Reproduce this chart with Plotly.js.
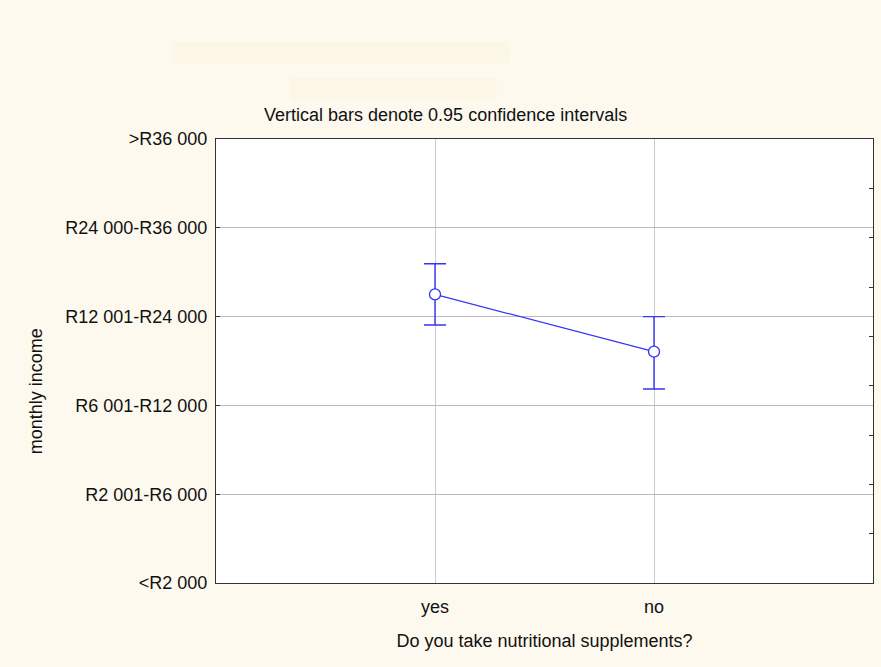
<!DOCTYPE html>
<html>
<head>
<meta charset="utf-8">
<script src="https://cdn.plot.ly/plotly-3.0.1.min.js"></script>
<style>html,body{margin:0;padding:0;background:#FDF9EE;}#chart{width:881px;height:667px;}</style>
</head>
<body>
<div id="chart"></div>
<script>
const categories = ["yes", "no"];
const means = [4.25, 3.605];
const ciUpper = [0.345, 0.395];
const ciLower = [0.345, 0.42];
const incomeLevels = [1, 2, 3, 4, 5, 6];
const incomeLabels = ["&lt;R2 000", "R2 001-R6 000", "R6 001-R12 000", "R12 001-R24 000", "R24 000-R36 000", "&gt;R36 000"];

const xPos = categories.map((c, i) => i + 1);

const trace = {
  x: xPos,
  y: means,
  type: "scatter",
  mode: "lines+markers",
  line: {color: "#3535F5", width: 1.2},
  marker: {symbol: "circle", size: 11, color: "#FFFFFF", line: {width: 1.3, color: "#3535F5"}},
  error_y: {type: "data", symmetric: false, array: ciUpper, arrayminus: ciLower, color: "#3535F5", thickness: 1.4, width: 11},
  showlegend: false,
  hoverinfo: "skip"
};
const dummy = {x: [1], y: [0], yaxis: "y2", type: "scatter", mode: "markers", marker: {opacity: 0}, showlegend: false, hoverinfo: "skip"};

const font = {family: "Liberation Sans, Arial, sans-serif", size: 18, color: "#111"};

const layout = {
  width: 881, height: 667,
  paper_bgcolor: "#FDF9EE",
  plot_bgcolor: "#FFFFFF",
  margin: {l: 216, r: 8, t: 139, b: 84},
  font: font,
  xaxis: {
    range: [0, 3],
    tickvals: xPos,
    ticktext: categories,
    showgrid: true, gridcolor: "#CCCCCC", gridwidth: 1,
    zeroline: false,
    showline: true, linecolor: "#333", linewidth: 1, mirror: true,
    ticks: "",
    ticklabelstandoff: 7,
    tickfont: font,
    title: {text: "Do you take nutritional supplements?", font: font, standoff: 18}
  },
  yaxis: {
    range: [1, 6],
    tickvals: incomeLevels,
    ticktext: incomeLabels,
    showgrid: true, gridcolor: "#BBBBBB", gridwidth: 1,
    zeroline: false,
    showline: true, linecolor: "#333", linewidth: 1, mirror: true,
    ticks: "inside", ticklen: 4, tickcolor: "#333",
    ticklabelstandoff: 4,
    tickfont: font
  },
  yaxis2: {
    overlaying: "y", side: "right", range: [0, 9], dtick: 1,
    showticklabels: false, showgrid: false, zeroline: false,
    ticks: "inside", ticklen: 4, tickcolor: "#333", showline: false
  },
  shapes: [
    {type: "rect", xref: "paper", yref: "paper", x0: -0.066, x1: 0.446, y0: 1.171, y1: 1.219, fillcolor: "#FCF6E6", line: {width: 0}, layer: "below"},
    {type: "rect", xref: "paper", yref: "paper", x0: 0.113, x1: 0.427, y0: 1.088, y1: 1.138, fillcolor: "#FCF6E6", line: {width: 0}, layer: "below"}
  ],
  annotations: [
    {text: "Vertical bars denote 0.95 confidence intervals", xref: "paper", yref: "paper", x: 0.350, y: 1.028, xanchor: "center", yanchor: "bottom", showarrow: false, font: font},
    {text: "monthly income", xref: "paper", yref: "paper", x: -0.274, y: 0.432, xanchor: "center", yanchor: "middle", textangle: -90, showarrow: false, font: font}
  ]
};

Plotly.newPlot("chart", [trace, dummy], layout, {displayModeBar: false, staticPlot: true});
</script>
</body>
</html>
